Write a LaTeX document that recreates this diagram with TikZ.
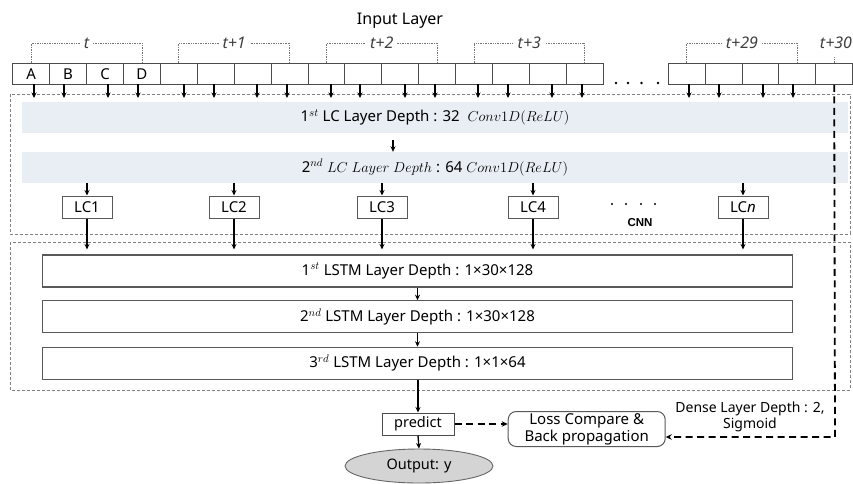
\documentclass[tikz,border=0pt]{standalone}
\usepackage{fontspec}
\setmainfont{Noto Sans}
\newfontfamily\cnnfont{Liberation Sans}
\usetikzlibrary{arrows.meta,shapes.geometric,calc}
\definecolor{bandblue}{HTML}{E9EEF4}
\definecolor{lgray}{HTML}{777777}
\begin{document}
\begin{tikzpicture}[x=1pt,y=-1pt,
  txt/.style={font=\fontsize{15}{17}\selectfont},
  cell/.style={draw=black!70, line width=0.9pt, minimum width=36.9pt, minimum height=21pt, inner sep=0pt, anchor=north west},
  arr/.style={-{Stealth[length=5.5pt,width=5pt]}, line width=1.3pt},
  brk/.style={densely dotted, draw=lgray, line width=0.7pt},
  tlab/.style={fill=white, inner xsep=4pt, inner ysep=1pt, font=\fontsize{16}{18}\selectfont\itshape, text=black!75},
  dbox/.style={draw=gray, dash pattern=on 3pt off 2pt, line width=0.7pt},
  band/.style={fill=bandblue, draw=none, minimum width=826pt, minimum height=31pt, inner sep=0pt, font=\fontsize{15}{17}\selectfont},
  lcbox/.style={draw=black!65, line width=1pt, minimum width=50pt, minimum height=22pt, inner sep=0pt, font=\fontsize{15}{17}\selectfont},
  lstm/.style={draw=black!65, line width=1.1pt, minimum width=749.6pt, minimum height=32pt, inner sep=0pt, font=\fontsize{15}{17}\selectfont},
  tdash/.style={line width=1.8pt, dash pattern=on 7pt off 4.5pt},
  dot/.style={fill=black, circle, inner sep=0pt, minimum size=2.6pt}
]
\useasboundingbox (0,0) rectangle (853,483);
\fill[white] (0,0) rectangle (853,483);

% Input layer title
\node[font=\fontsize{16}{18}\selectfont] (title) at (400,21) {Input Layer};

% cells
\foreach \i in {0,...,15} \node[cell] (c\i) at ({12.3+36.9*\i},63) {};
\foreach \i in {0,...,4} \node[cell] (d\i) at ({667.7+36.9*\i},63) {};
\node[txt] at (c0) {A};
\node[txt] at (c1) {B};
\node[txt] at (c2) {C};
\node[txt] at (c3) {D};

% brackets
\foreach \a/\b/\lab in {c0/c3/t, c4/c7/t+1, c8/c11/t+2, c12/c15/t+3, d0/d3/t+29} {
  \draw[brk] (\a.north) -- ++(0,-20) -| (\b.north);
  \node[tlab] at ($(\a.north)!0.5!(\b.north)+(0,-20)$) {\lab};
}
\draw[brk] (d4.north) -- ++(0,-6);
\node[tlab, fill=none] (t30) at (836,43) {t+30};

% dots in input row
\foreach \x in {616,628,641.5,658} \node[dot] at (\x,83) {};

% CNN dashed box and LSTM dashed box
\draw[dbox] (10,94) rectangle (850,234);
\draw[dbox] (10,242) rectangle (850,390);

% arrows from input cells
\foreach \x in {34,64,108,138,184,214,257,287,331,360,405,435,478,508,552,582,689,719,763,793}
  \draw[arr] (\x,84) -- (\x,98);

% bands
\node[band] (b1) at (435,117.5) {1$^{st}$ LC Layer Depth : 32~~$Conv1D(ReLU)$};
\node[band] (b2) at (435,167.5) {2$^{nd}$ $LC\ Layer\ Depth$ : 64 $Conv1D(ReLU)$};
\coordinate (ax) at (393,0);
\draw[arr, shorten <=7pt] (b1.south -| ax) -- (b2.north -| ax);

% LC boxes
\node[lcbox] (lc1) at (87,207) {LC1};
\node[lcbox] (lc2) at (234,207) {LC2};
\node[lcbox] (lc3) at (382,207) {LC3};
\node[lcbox] (lc4) at (533,207) {LC4};
\node[lcbox] (lcn) at (743,207) {LC\textit{n}};
\foreach \n in {lc1,lc2,lc3,lc4,lcn} \draw[arr] (b2.south -| \n) -- (\n.north);
\foreach \x in {612,626,641,655} \node[dot, minimum size=2.4pt] at (\x,204) {};
\node[font=\cnnfont\fontsize{11.5}{13}\selectfont\bfseries, fill=white, inner sep=2pt] (cnn) at (640,223) {CNN};

% LSTM boxes
\node[lstm] (l1) at (417.5,271) {1$^{st}$ LSTM Layer Depth : 1×30×128};
\node[lstm] (l2) at (417.5,316.7) {2$^{nd}$ LSTM Layer Depth : 1×30×128};
\node[lstm] (l3) at (417.5,363.3) {3$^{rd}$ LSTM Layer Depth : 1×1×64};
\foreach \n in {lc1,lc2,lc3,lc4,lcn} \draw[arr, shorten >=5pt] (\n.south) -- (\n.south |- l1.north);
\draw[arr] (l1.south) -- (l2.north);
\draw[arr] (l2.south) -- (l3.north);

% output part
\node[draw=black!70, line width=1pt, minimum width=72pt, minimum height=22pt, inner sep=0pt, font=\fontsize{14.5}{17}\selectfont] (pred) at (418,424) {predict};
\node[ellipse, draw=black!60, line width=0.9pt, fill=black!17, minimum width=148pt, minimum height=34pt, inner sep=0pt, font=\fontsize{14.5}{17}\selectfont] (out) at (419,466) {Output: y};
\node[draw=black!65, line width=1pt, rounded corners=8pt, minimum width=157pt, minimum height=35pt, align=center, inner sep=0pt, font=\fontsize{15}{17}\selectfont] (loss) at (586.7,429) {Loss Compare \&\\Back propagation};
\draw[arr] (l3.south -| pred) -- (pred.north);
\draw[arr] (pred.south) -- (out.north);
\draw[tdash, -{Stealth[length=6pt,width=5.5pt]}] (pred.east) -- (pred.east -| loss.west);
\coordinate (dl) at (835,437);
\draw[tdash, -{Stealth[length=6pt,width=5.5pt]}] (d4.south) -- (dl) -- (dl -| loss.east);
\node[align=center, font=\fontsize{14}{16}\selectfont] (dense) at (750,417) {Dense Layer Depth : 2,\\Sigmoid};
\end{tikzpicture}
\end{document}
